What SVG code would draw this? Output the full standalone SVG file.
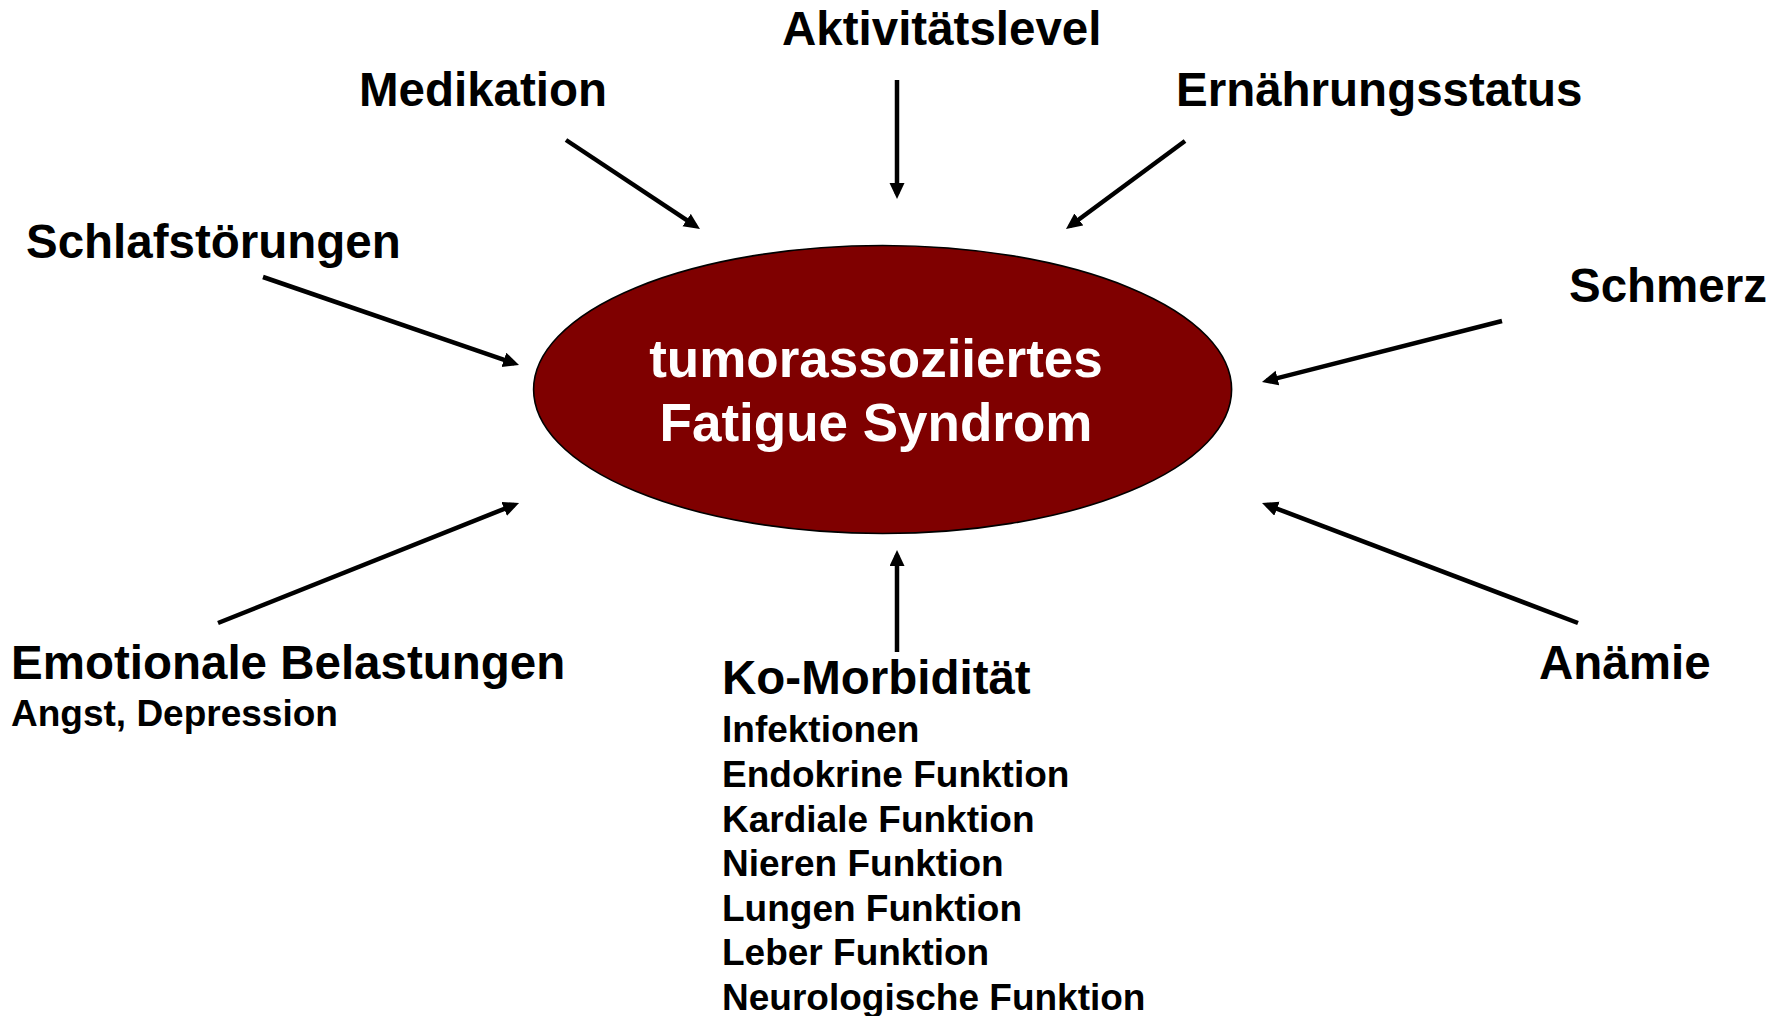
<svg xmlns="http://www.w3.org/2000/svg" width="1788" height="1016" viewBox="0 0 1788 1016">
<style>
text{font-family:"Liberation Sans",Arial,sans-serif;font-weight:bold;fill:#000}
.lbl{font-size:47.5px}
.sub{font-size:37px}
.ctr{font-size:53px;fill:#fff;text-anchor:middle}
.arr{stroke:#000;stroke-width:4.5;fill:none;marker-end:url(#ah)}
</style>
<defs>
<marker id="ah" markerUnits="userSpaceOnUse" markerWidth="18" markerHeight="16" refX="11" refY="7.5" orient="auto">
<path d="M0,0 L16,7.5 L0,15 Z" fill="#000"/>
</marker>
</defs>
<rect width="1788" height="1016" fill="#fff"/>
<g id="center">
<ellipse cx="882.6" cy="389.5" rx="349" ry="144" fill="#7f0000" stroke="#000" stroke-width="1.6"/>
<text class="ctr" x="876" y="377">tumorassoziiertes</text>
<text class="ctr" x="876" y="441">Fatigue Syndrom</text>
</g>
<g id="aktivitaet"><text class="lbl" x="782" y="45">Aktivitätslevel</text></g>
<g id="medikation"><text class="lbl" x="359" y="106">Medikation</text></g>
<g id="ernaehrung"><text class="lbl" x="1176" y="106">Ernährungsstatus</text></g>
<g id="schlaf"><text class="lbl" x="26" y="258">Schlafstörungen</text></g>
<g id="schmerz"><text class="lbl" x="1569" y="302">Schmerz</text></g>
<g id="emotional">
<text class="lbl" x="11" y="679">Emotionale Belastungen</text>
<text class="sub" x="11" y="726">Angst, Depression</text>
</g>
<g id="anaemie"><text class="lbl" x="1539" y="679">Anämie</text></g>
<g id="komorbiditaet">
<text class="lbl" x="722" y="694">Ko-Morbidität</text>
<text class="sub" x="722" y="742">Infektionen</text>
<text class="sub" x="722" y="787">Endokrine Funktion</text>
<text class="sub" x="722" y="832">Kardiale Funktion</text>
<text class="sub" x="722" y="876">Nieren Funktion</text>
<text class="sub" x="722" y="921">Lungen Funktion</text>
<text class="sub" x="722" y="965">Leber Funktion</text>
<text class="sub" x="722" y="1010">Neurologische Funktion</text>
</g>
<g id="connectors">
<line class="arr" x1="897" y1="80" x2="897" y2="194"/>
<line class="arr" x1="566" y1="140" x2="695.8" y2="226.2"/>
<line class="arr" x1="1185" y1="141" x2="1070" y2="226"/>
<line class="arr" x1="263" y1="277" x2="514.3" y2="363.4"/>
<line class="arr" x1="1502" y1="321" x2="1266.8" y2="380.8"/>
<line class="arr" x1="218" y1="623" x2="514.4" y2="504.8"/>
<line class="arr" x1="1578" y1="623" x2="1266.7" y2="504.8"/>
<line class="arr" x1="897" y1="652" x2="897" y2="555"/>
</g>
</svg>
